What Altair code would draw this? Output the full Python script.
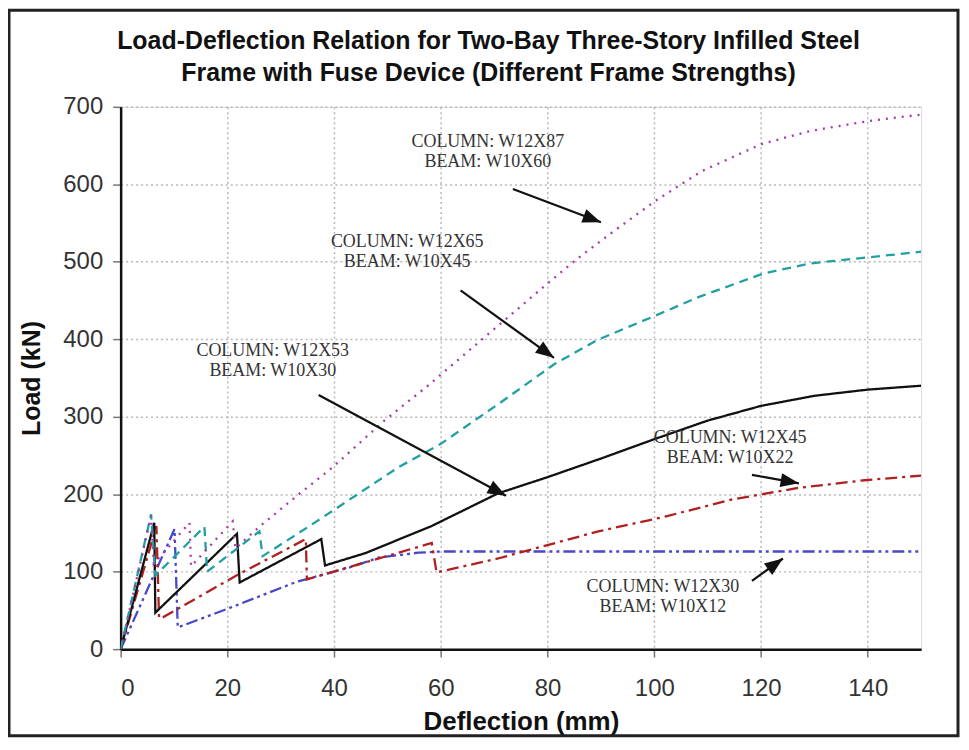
import math
import altair as alt
import pandas as pd

# ---------------- data ----------------
w12x87_x = [0, 5.7, 6.2, 12.9, 13.2, 21.0, 21.5, 26, 33.4, 39.6, 49.6, 57.4, 68.6, 80.0, 85.4, 92.5, 100.5, 108.9, 120.1, 129.3, 140.5, 150]
w12x87_y = [0, 172, 110, 163, 107, 165, 130, 158, 200, 234, 296, 339, 405, 472, 503, 540, 580, 617, 652, 669, 682, 690]

w12x65_x = [0, 5.7, 6.5, 15.7, 16.2, 26.0, 26.6, 33.4, 39.6, 52.1, 60, 70.7, 81.3, 89.3, 99.7, 108.5, 120.5, 129.3, 140.5, 150]
w12x65_y = [0, 174, 95, 158, 100, 152, 120, 150, 178, 235, 265, 316, 368, 399, 429, 455, 485, 498, 506, 513]

w12x53_x = [0, 6.3, 6.5, 21.8, 22.3, 37.6, 38.3, 45.9, 58.3, 70.7, 80, 90, 100, 110, 120, 130, 140, 150]
w12x53_y = [0, 163, 47, 149, 86, 142, 108, 124, 159, 201, 222, 246, 271, 295, 314, 327, 335, 340]

w12x45_x = [0, 6.7, 7.2, 7.9, 22.2, 34.7, 34.9, 58.3, 59.2, 70.7, 89.5, 102, 114.4, 126.9, 139.4, 150]
w12x45_y = [0, 159, 40, 41, 97, 142, 90, 137, 99, 117, 152, 171, 193, 208, 218, 224]

w12x30_x = [0, 10.1, 10.7, 20, 33.0, 42.7, 48.3, 55.8, 60, 150]
w12x30_y = [0, 155, 28, 52, 87, 105, 118, 124.5, 126, 126]

series_names = ["W12X30", "W12X45", "W12X53", "W12X65", "W12X87"]
series_x = [w12x30_x, w12x45_x, w12x53_x, w12x65_x, w12x87_x]
series_y = [w12x30_y, w12x45_y, w12x53_y, w12x65_y, w12x87_y]
series_color = ["#4848C8", "#B02020", "#111111", "#20A0A0", "#A838B0"]
series_dash = [[12, 4, 3, 4, 3, 4], [12, 5, 3, 5], [1, 0], [9, 6], [2, 6]]

x_ticks = [0, 20, 40, 60, 80, 100, 120, 140]
y_ticks = [0, 100, 200, 300, 400, 500, 600, 700]

# annotations: label lines and arrow (start -> tip) in data units
ann_line1 = ["COLUMN: W12X87", "COLUMN: W12X65", "COLUMN: W12X53", "COLUMN: W12X45", "COLUMN: W12X30"]
ann_line2 = ["BEAM: W10X60", "BEAM: W10X45", "BEAM: W10X30", "BEAM: W10X22", "BEAM: W10X12"]
ann_x = [68.8, 53.7, 28.5, 114.2, 101.6]
ann_y = [643, 514, 373, 261, 68]
arrow_x1 = [73.5, 63.7, 37.1, 118.3, 118.3]
arrow_y1 = [594, 463, 328, 225, 88]
arrow_x2 = [90.0, 81.2, 72.2, 127.1, 124.1]
arrow_y2 = [551, 376, 198, 214, 117]

title_lines = ["Load-Deflection Relation for Two-Bay Three-Story Infilled Steel",
               "Frame with Fuse Device (Different Frame Strengths)"]

# ---------------- layout ----------------
W, H = 803, 544
XMAX, YMAX = 150, 700
pxx = W / XMAX
pxy = H / YMAX

xs = alt.Scale(domain=[0, XMAX], nice=False, zero=False)
ys = alt.Scale(domain=[0, YMAX], nice=False)

label_font = "Liberation Sans"
ann_font = "Liberation Serif"

x_axis = alt.Axis(values=x_ticks, title="Deflection (mm)",
                  grid=True, gridColor="#b8b8b8", gridDash=[2, 3], gridWidth=1.5,
                  labelFont=label_font, labelFontSize=24, labelColor="#333",
                  labelPadding=20, tickSize=8, tickColor="#777", tickWidth=1.5,
                  domainColor="#111", domainWidth=2.5,
                  titleFont=label_font, titleFontSize=26, titleFontWeight="bold",
                  titleColor="#111", titlePadding=8)
y_axis = alt.Axis(values=y_ticks, title="Load (kN)",
                  grid=True, gridColor="#b8b8b8", gridDash=[2, 3], gridWidth=1.5,
                  labelFont=label_font, labelFontSize=24, labelColor="#333",
                  labelPadding=10, tickSize=8, tickColor="#777", tickWidth=1.5,
                  domainColor="#111", domainWidth=2.5,
                  titleFont=label_font, titleFontSize=25, titleFontWeight="bold",
                  titleColor="#111", titlePadding=18)


def X(field):
    return alt.X(field, scale=xs, axis=x_axis, title="Deflection (mm)")


def Y(field):
    return alt.Y(field, scale=ys, axis=y_axis, title="Load (kN)")


layers = []
for i, name in enumerate(series_names):
    df = pd.DataFrame({"x": series_x[i], "y": series_y[i], "o": list(range(len(series_x[i])))})
    ln = alt.Chart(df).mark_line(color=series_color[i], strokeWidth=2.3,
                                 strokeDash=series_dash[i], clip=True).encode(
        x=X("x:Q"), y=Y("y:Q"), order="o:Q")
    layers.append(ln)

ann = pd.DataFrame({"l1": ann_line1, "l2": ann_line2, "x": ann_x, "y": ann_y,
                    "x1": arrow_x1, "y1": arrow_y1, "x2": arrow_x2, "y2": arrow_y2})
ann["ang"] = [
    (math.degrees(math.atan2((b - a) * pxx, (d - c) * pxy)) + 360) % 360
    for a, b, c, d in zip(arrow_x1, arrow_x2, arrow_y1, arrow_y2)
]

t1 = alt.Chart(ann).mark_text(font=ann_font, fontSize=18, color="#333", baseline="bottom").encode(
    x=X("x:Q"), y=Y("y:Q"), text="l1:N")
t2 = alt.Chart(ann).mark_text(font=ann_font, fontSize=18, color="#333", baseline="top", dy=2).encode(
    x=X("x:Q"), y=Y("y:Q"), text="l2:N")
shaft = alt.Chart(ann).mark_rule(color="#111", strokeWidth=2.2).encode(
    x=X("x1:Q"), y=Y("y1:Q"), x2="x2:Q", y2="y2:Q")
head = alt.Chart(ann).mark_point(shape="M0,0L0.5,1.3L-0.5,1.3Z", filled=True, color="#111",
                                 opacity=1, size=800).encode(
    x=X("x2:Q"), y=Y("y2:Q"), angle=alt.Angle("ang:Q", scale=None))

tdf = pd.DataFrame({"t": title_lines, "k": [0, 1]})
title_l1 = alt.Chart(tdf).transform_filter("datum.k == 0").mark_text(
    font=label_font, fontSize=25, fontWeight="bold", color="#111", align="center", baseline="middle").encode(
    text="t:N", x=alt.value(369), y=alt.value(-66))
title_l2 = alt.Chart(tdf).transform_filter("datum.k == 1").mark_text(
    font=label_font, fontSize=25, fontWeight="bold", color="#111", align="center", baseline="middle").encode(
    text="t:N", x=alt.value(369), y=alt.value(-34))

frame = alt.Chart(pd.DataFrame({"a": [0]})).mark_rect(fill=None, stroke="#222", strokeWidth=3).encode(
    x=alt.value(-112), x2=alt.value(840), y=alt.value(-97), y2=alt.value(631))

chart = alt.layer(*layers, shaft, head, t1, t2, title_l1, title_l2, frame).properties(
    width=W, height=H,
    autosize=alt.AutoSizeParams(type="none"),
    padding={"left": 113, "top": 98, "right": 40, "bottom": 88},
).configure_view(stroke="#555", strokeWidth=2).configure(background="white")

chart.save("out.html", embed_options={"renderer": "svg", "actions": False})
